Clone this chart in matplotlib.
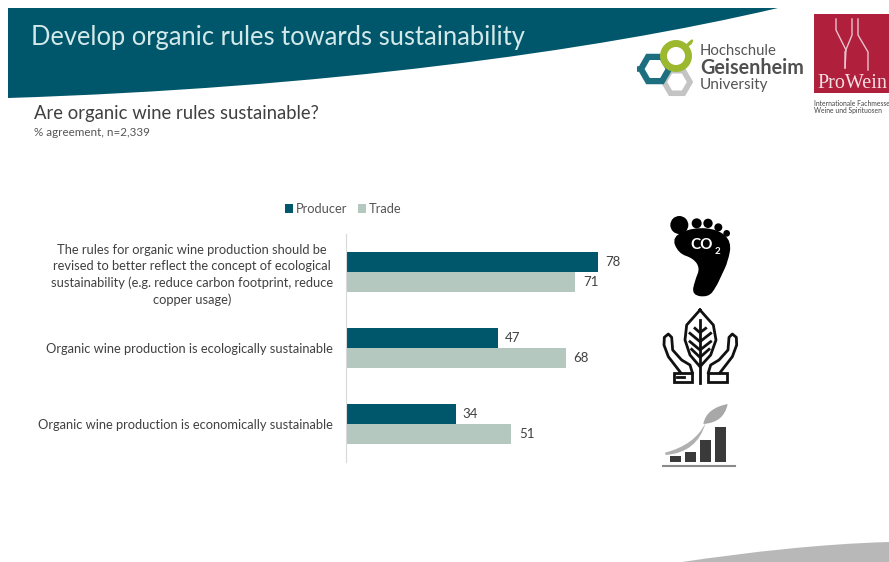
import matplotlib
matplotlib.use("Agg")
import matplotlib.pyplot as plt
import numpy as np
from matplotlib.patches import Circle, PathPatch, Polygon, Rectangle
from matplotlib.path import Path

plt.rcParams['font.family'] = ['Lato', 'DejaVu Sans']

# --- Data ---
categories = [
    "The rules for organic wine production should be\n"
    "revised to better reflect the concept of ecological\n"
    "sustainability (e.g. reduce carbon footprint, reduce\n"
    "copper usage)",
    "Organic wine production is ecologically sustainable",
    "Organic wine production is economically sustainable",
]
producer = [78, 47, 34]
trade = [71, 68, 51]

TEAL = '#00566a'
SAGE = '#b4c8c0'
TEXT = '#404040'
W, H = 889, 562


def smooth_path(pts):
    # closed smooth outline through midpoints
    pts = np.array(pts, dtype=float)
    mids = (pts + np.roll(pts, -1, axis=0)) / 2
    verts = [mids[-1]]
    codes = [Path.MOVETO]
    for p, m in zip(pts, mids):
        verts += [p, m]
        codes += [Path.CURVE3, Path.CURVE3]
    return Path(verts, codes)


def zoomed(pts):
    return [(640 + x / 3, 200 + y / 3) for x, y in pts]


def hexagon(cx, cy, r):
    ang = np.radians(np.arange(0, 360, 60))
    return np.column_stack([cx + r * np.cos(ang), cy + r * np.sin(ang)])


fig = plt.figure(figsize=(W / 100, H / 100), dpi=100)
bg = fig.add_axes([0, 0, 1, 1])
bg.set_xlim(0, W)
bg.set_ylim(H, 0)
bg.axis('off')

# --- Banner and bottom swoosh ---
banner = Path([(8, 8), (778, 8), (590, 52), (320, 88), (8, 98), (8, 8)],
              [Path.MOVETO, Path.LINETO, Path.CURVE4, Path.CURVE4, Path.CURVE4, Path.CLOSEPOLY])
bg.add_patch(PathPatch(banner, fc=TEAL, ec='none'))
swoosh = Path([(682, 562), (750, 552), (820, 544), (889, 542), (889, 562), (682, 562)],
              [Path.MOVETO, Path.CURVE4, Path.CURVE4, Path.CURVE4, Path.LINETO, Path.CLOSEPOLY])
bg.add_patch(PathPatch(swoosh, fc='#b8b8b8', ec='none'))

bg.text(31, 38, "Develop organic rules towards sustainability", color='#d3e8e8',
        fontsize=18.4, va='center', ha='left')
bg.text(34, 113, "Are organic wine rules sustainable?", color=TEXT, fontsize=13.35, va='center')
bg.text(34, 133, "% agreement, n=2,339", color='#555555', fontsize=8.4, va='center')

# --- Geisenheim logo ---
bg.add_patch(Polygon(hexagon(677, 82, 13), closed=True, fc='none', ec='#c4c4c4', lw=4))
bg.add_patch(Polygon(hexagon(655, 69, 14), closed=True, fc='none', ec='#1d6f80', lw=4.5))
bg.plot([637, 642], [69, 69], color='#1d6f80', lw=4, solid_capstyle='butt')
bg.add_patch(Circle((676, 56), 12.5, fc='none', ec='#9cb82e', lw=5))
bg.add_patch(PathPatch(smooth_path([(684, 47), (690, 40), (694, 39), (691, 46)]), fc='#9cb82e', ec='none'))
bg.text(700, 51, "Hochschule", color='#555555', fontsize=10.7, va='center')
bg.text(700, 68, "Geisenheim", color='#505050', fontsize=14.2, va='center', fontweight='bold')
bg.text(700, 85, "University", color='#555555', fontsize=11, va='center')

# --- ProWein logo ---
bg.add_patch(Rectangle((814, 14), 75, 79, fc='#b01f3c', ec='none'))
for seg in ([(836, 19), (836, 30), (846, 50), (845, 68)], [(858, 19), (858, 35), (868, 52), (868, 70)],
            [(852, 19), (852, 35), (845, 52), (845, 68)]):
    bg.plot(*zip(*seg), color='#e8c4cc', lw=1)
bg.text(817, 83, "ProWein", color='#f4dfe3', fontsize=14.5, va='center', family=['Liberation Serif'])
bg.text(814, 104, "Internationale Fachmesse", color='#444444', fontsize=4.9, va='center')
bg.text(814, 110, "Weine und Spirituosen", color='#444444', fontsize=4.9, va='center')

# --- Footprint icon ---
for x, y, r in [(118, 75, 27), (170, 70, 15), (204, 70, 14), (235, 82, 12), (260, 100, 10)]:
    (cx, cy), = zoomed([(x, y)])
    bg.add_patch(Circle((cx, cy), r / 3, fc='black', ec='none'))
sole = [(95, 110), (160, 82), (235, 88), (275, 125), (264, 185), (245, 225), (228, 262),
        (205, 292), (155, 285), (165, 240), (180, 205), (160, 175), (115, 160)]
bg.add_patch(PathPatch(smooth_path(zoomed(sole)), fc='black', ec='none'))
bg.text(702, 245, "CO", color='white', fontsize=11, fontweight='bold', ha='center', va='center')
bg.text(717, 252, "2", color='white', fontsize=7, fontweight='bold', ha='center', va='center')

# --- Hands and leaf icon ---
lw = 2
lx, ly = zip(*zoomed([(180, 330), (140, 375), (135, 420), (150, 465), (180, 500),
                      (212, 465), (228, 420), (220, 375), (180, 330)]))
bg.plot(lx, ly, color='#111111', lw=lw)
for seg in [[(180, 360), (180, 548)],
            [(150, 400), (180, 425), (212, 400)],
            [(150, 425), (180, 450), (212, 425)],
            [(155, 448), (180, 472), (207, 448)],
            [(165, 385), (180, 398), (197, 385)]]:
    sx, sy = zip(*zoomed(seg))
    bg.plot(sx, sy, color='#111111', lw=lw)
hand = [(122, 518), (85, 470), (72, 435), (73, 412), (85, 402), (95, 412), (98, 450), (125, 480),
        (150, 495), (157, 518)]
sx, sy = zip(*zoomed(hand))
bg.plot(sx, sy, color='#111111', lw=lw)
sx = [2 * (640 + 181 / 3) - v for v in sx]
bg.plot(sx, sy, color='#111111', lw=lw)
for x0, y0, w, h in [(103, 518, 54, 27), (205, 518, 57, 27)]:
    (rx, ry), = zoomed([(x0, y0)])
    bg.add_patch(Rectangle((rx, ry), w / 3, h / 3, fc='none', ec='#111111', lw=lw))
sx, sy = zip(*zoomed([(112, 532), (132, 532)]))
bg.plot(sx, sy, color='#111111', lw=lw)

# --- Growth icon ---
for x0, top, w in [(90, 768, 32), (135, 755, 33), (180, 720, 33), (225, 680, 34)]:
    (rx, ry), = zoomed([(x0, top)])
    bg.add_patch(Rectangle((rx, ry), w / 3, (786 - top) / 3, fc='#3a3a3a', ec='none'))
sx, sy = zip(*zoomed([(68, 797), (285, 797)]))
bg.plot(sx, sy, color='#8a8a8a', lw=1.5)
curve_codes = [Path.MOVETO, Path.CURVE3, Path.CURVE3, Path.CURVE3, Path.CURVE3, Path.CLOSEPOLY]
stem = [(75, 758), (165, 735), (197, 668), (172, 758), (77, 765), (75, 758)]
bg.add_patch(PathPatch(Path(zoomed(stem), curve_codes), fc='#b0b0b0', ec='none'))
blade = [(190, 672), (198, 625), (263, 612), (252, 668), (190, 672), (190, 672)]
bg.add_patch(PathPatch(Path(zoomed(blade), curve_codes), fc='#a8a8a8', ec='none'))

# --- Bars ---
ax = fig.add_axes([346 / W, 1 - 462 / H, 323 / W, 228 / H])
ax.patch.set_alpha(0)
y = np.arange(len(categories))
bar_h = 20 / 76
b1 = ax.barh(y - bar_h / 2, producer, height=bar_h, color=TEAL, label="Producer")
b2 = ax.barh(y + bar_h / 2, trade, height=bar_h, color=SAGE, label="Trade")
ax.bar_label(b1, padding=5, color=TEXT, fontsize=9.5)
ax.bar_label(b2, padding=5.8, color=TEXT, fontsize=9.5)
ax.set_xlim(0, 100)
ax.set_ylim(2.5, -0.5)
ax.set_yticks(y)
ax.set_yticklabels(categories, multialignment='center', color=TEXT, fontsize=9.25, linespacing=1.42)
ax.tick_params(axis='y', length=0, pad=9.5)
ax.xaxis.set_visible(False)
for side in ['top', 'right', 'bottom']:
    ax.spines[side].set_visible(False)
ax.spines['left'].set_color('#d9d9d9')
ax.legend(loc='center', bbox_to_anchor=((343 - 346) / 323, (462 - 209) / 228), ncol=2, frameon=False,
          fontsize=9.3, handlelength=0.65, handleheight=0.7, handletextpad=0.2, columnspacing=0.85,
          labelcolor='#555555')

fig.savefig("out.png", dpi=100)
